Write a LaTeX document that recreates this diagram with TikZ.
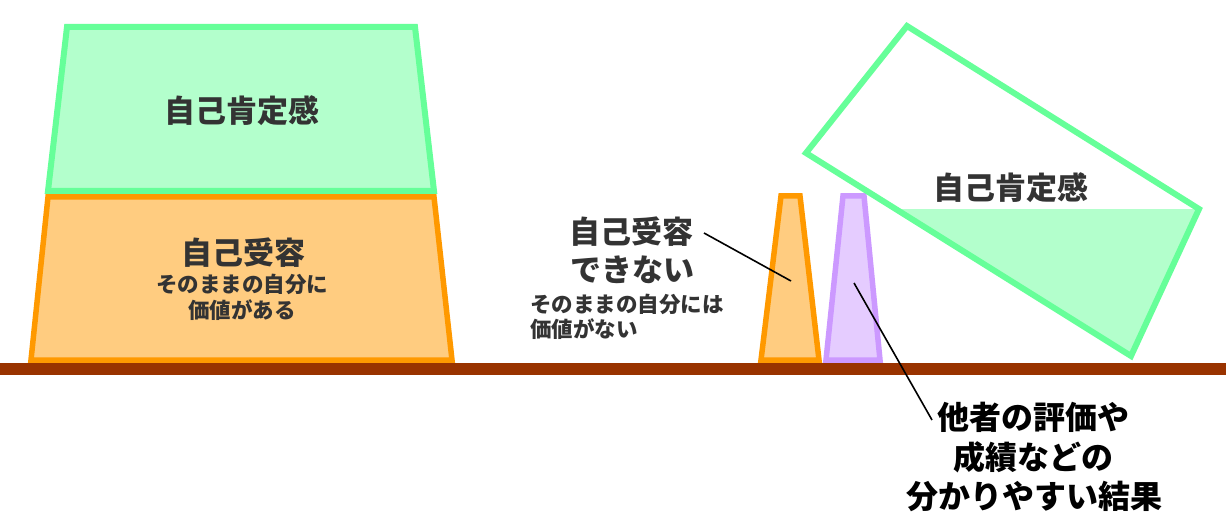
\documentclass[tikz,border=0pt]{standalone}
\usepackage{fontspec}
\newfontfamily\jp{Noto Sans CJK JP}
\definecolor{gstroke}{HTML}{66FF99}
\definecolor{gfill}{HTML}{B3FFCC}
\definecolor{ostroke}{HTML}{FF9900}
\definecolor{ofill}{HTML}{FFCC80}
\definecolor{pstroke}{HTML}{CC99FF}
\definecolor{pfill}{HTML}{E5CCFF}
\definecolor{ground}{HTML}{993300}
\definecolor{txt}{HTML}{333333}
\tikzset{
  big/.style={inner sep=0pt, text=txt, font=\jp\bfseries\fontsize{31}{37}\selectfont, text height=27pt, text depth=4pt},
  small/.style={inner sep=0pt, text=txt, font=\jp\bfseries\fontsize{21.5}{26}\selectfont, text height=19pt, text depth=2.5pt},
  blk/.style={inner sep=0pt, text=black, font=\jp\bfseries\fontsize{32}{38}\selectfont, text height=28pt, text depth=4pt},
  gshape/.style={draw=gstroke, line width=6pt, line join=miter},
  oshape/.style={draw=ostroke, fill=ofill, line width=5.5pt, line join=miter},
  pshape/.style={draw=pstroke, fill=pfill, line width=5.5pt, line join=miter},
  pointer/.style={draw=black, line width=1.6pt}
}
\begin{document}
\begin{tikzpicture}[x=1pt,y=-1pt]
\useasboundingbox (0,0) rectangle (1226,521);
\fill[white] (0,0) rectangle (1226,521);
% big orange trapezoid
\draw[oshape] (48,197) -- (434,197) -- (452,360) -- (31,360) -- cycle;
% big green trapezoid
\draw[gshape, fill=gfill] (67,27) -- (415,27) -- (434,191) -- (48,191) -- cycle;
% small orange
\draw[oshape] (781,196) -- (800,196) -- (819,360) -- (761,360) -- cycle;
% small purple
\draw[pshape] (843,196) -- (864,196) -- (880,360) -- (826,360) -- cycle;
% tilted green trapezoid
\begin{scope}
  \clip (907,26) -- (1199,209) -- (1131,356) -- (806,153) -- cycle;
  \fill[gfill] (780,209) rectangle (1226,400);
\end{scope}
\draw[gshape] (907,26) -- (1199,209) -- (1131,356) -- (806,153) -- cycle;
% ground
\fill[ground] (0,363) rectangle (1226,375);
% texts
\node[big] (t1) at (242,111) {自己肯定感};
\node[big] (t2) at (243,253) {自己受容};
\node[small] (t3) at (242,284) {そのままの自分に};
\node[small] (t4) at (242,310) {価値がある};
\node[big] (m1) at (631,232) {自己受容};
\node[big] (m2) at (632,270) {できない};
\node[small, anchor=west] (m3) at (530,304) {そのままの自分には};
\node[small, anchor=west] (m4) at (530,329) {価値がない};
\node[big] (r1) at (1011,188) {自己肯定感};
\node[blk] (b1) at (1033,417) {他者の評価や};
\node[blk] (b2) at (1033,457) {成績などの};
\node[blk] (b3) at (1034,496) {分かりやすい結果};
% connectors
\coordinate (p1) at (704,233);
\coordinate (q1) at (791,281);
\coordinate (p2) at (854,283);
\coordinate (q2) at (932,420);
\draw[pointer] (p1) -- (q1);
\draw[pointer] (p2) -- (q2);
\end{tikzpicture}
\end{document}
